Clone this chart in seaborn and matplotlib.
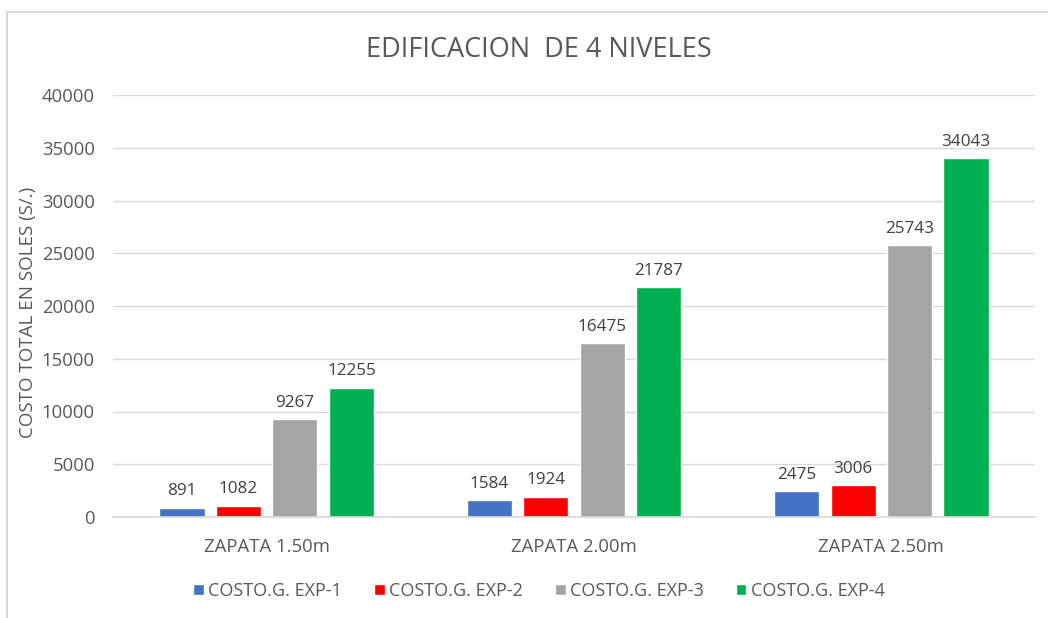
import matplotlib
matplotlib.use("Agg")
import matplotlib.pyplot as plt
import seaborn as sns
import pandas as pd
from matplotlib.patches import Rectangle

categories = ["ZAPATA 1.50m", "ZAPATA 2.00m", "ZAPATA 2.50m"]
series = ["COSTO.G. EXP-1", "COSTO.G. EXP-2", "COSTO.G. EXP-3", "COSTO.G. EXP-4"]
exp1 = [891, 1584, 2475]
exp2 = [1082, 1924, 3006]
exp3 = [9267, 16475, 25743]
exp4 = [12255, 21787, 34043]
colors = ["#4472C4", "#FF0000", "#A5A5A5", "#00B050"]
yticks = [0, 5000, 10000, 15000, 20000, 25000, 30000, 35000, 40000]

rows = []
for s, vals in zip(series, [exp1, exp2, exp3, exp4]):
    for c, v in zip(categories, vals):
        rows.append({"cat": c, "serie": s, "val": v})
df = pd.DataFrame(rows)

sns.set_theme(style="white")
plt.rcParams["font.family"] = ["Open Sans", "DejaVu Sans"]
txt = "#595959"

W, H = 1048, 618
fig = plt.figure(figsize=(W / 100, H / 100), dpi=100)
ax = fig.add_axes([113 / W, 1 - 517 / H, 922 / W, 422 / H])

sns.barplot(data=df, x="cat", y="val", hue="serie", order=categories,
            hue_order=series, palette=colors, width=0.735, gap=0.2,
            saturation=1, ax=ax, legend=True)

for cont in ax.containers:
    ax.bar_label(cont, labels=[f"{int(v)}" for v in cont.datavalues],
                 padding=6, fontsize=12.3, color="#404040")

ax.set_ylim(0, 40000)
ax.set_xlim(-0.5, 2.5)
ax.set_yticks(yticks)
ax.set_yticklabels([str(t) for t in yticks], color=txt, fontsize=13.3)
ax.tick_params(axis="x", colors=txt, labelsize=13.3, length=0, pad=15)
ax.tick_params(axis="y", length=0, pad=13)
ax.grid(axis="y", color="#D9D9D9", linewidth=1)
ax.set_axisbelow(True)
for sp in ["top", "right", "left"]:
    ax.spines[sp].set_visible(False)
ax.spines["bottom"].set_color("#D9D9D9")
ax.set_xlabel("")
ax.set_ylabel("")

fig.text(28 / W, 1 - 312 / H, "COSTO TOTAL EN SOLES (S/.)", rotation=90,
         ha="center", va="center", color=txt, fontsize=13.5)
fig.text(539 / W, 1 - 50 / H, "EDIFICACION  DE 4 NIVELES", ha="center",
         va="center", color=txt, fontsize=19.5)

handles, labels = ax.get_legend_handles_labels()
ax.legend(handles, labels, loc="center", bbox_to_anchor=(539 / W, 1 - 591 / H),
          bbox_transform=fig.transFigure, ncol=4, frameon=False, fontsize=13,
          labelcolor=txt, handlelength=0.6, handleheight=0.6, handletextpad=0.25,
          columnspacing=1.75)

fig.patches.append(Rectangle((7 / W, -0.1), 1.2, (H - 12) / H + 0.1,
                             transform=fig.transFigure, fill=False,
                             edgecolor="#D9D9D9", linewidth=1.5, zorder=-1))

fig.savefig("out.png", dpi=100)
